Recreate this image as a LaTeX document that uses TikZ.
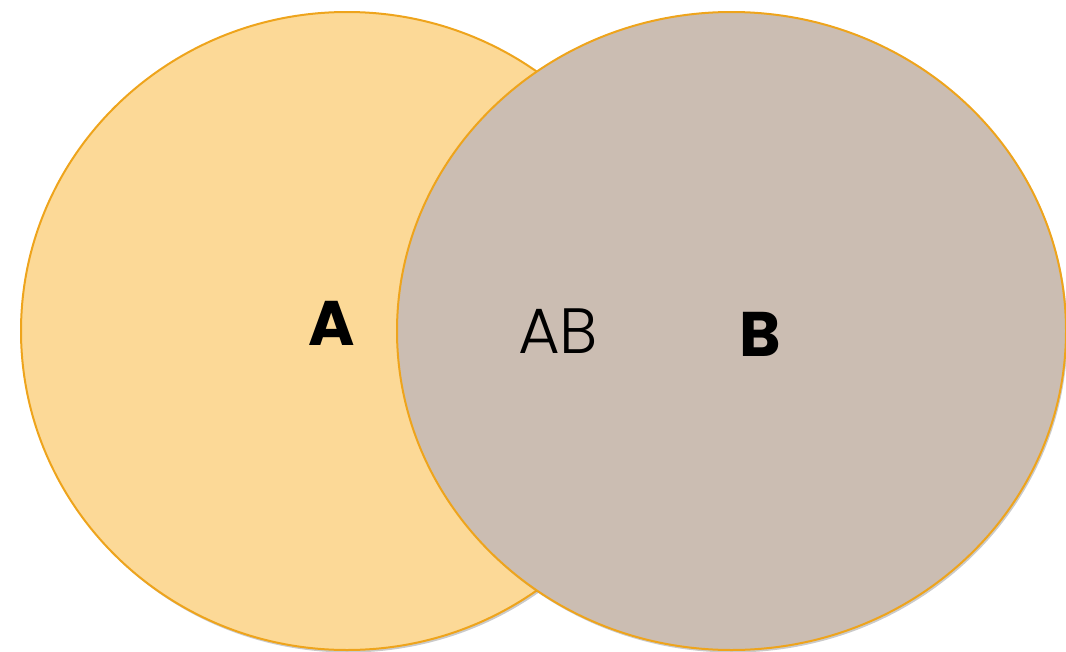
\documentclass[tikz,border=0pt]{standalone}
\usepackage{fontspec}
\newfontfamily\geofont{Poppins}
\newfontfamily\geolight{Poppins Light}
\usetikzlibrary{shapes.geometric,shadows}
\definecolor{setAfill}{RGB}{252,217,151}
\definecolor{setBfill}{RGB}{203,189,178}
\definecolor{edge}{RGB}{238,164,28}
\tikzset{
  setshape/.style={ellipse, draw=edge, line width=2pt, inner sep=0pt,
    drop shadow={shadow xshift=1.5pt, shadow yshift=-2.5pt, opacity=0.35, fill=black!60}},
  boldlabel/.style={font=\geofont\bfseries\fontsize{63}{63}\selectfont, text=black, inner sep=0pt},
  lightlabel/.style={font=\geolight\fontsize{64}{64}\selectfont, text=black, inner sep=0pt}
}
\begin{document}
\begin{tikzpicture}[x=1pt,y=-1pt]
\useasboundingbox (0,0) rectangle (1066,651);
\node[setshape, fill=setAfill, minimum width=652pt, minimum height=638pt] (setA) at (347,331) {};
\node[setshape, fill=setBfill, minimum width=669pt, minimum height=638pt] (setB) at (731.5,331) {};
\node[boldlabel] (labA) at (332,323) {A};
\node[lightlabel] (labAB) at (558,331) {AB};
\node[boldlabel] (labB) at (760,334) {B};
\end{tikzpicture}
\end{document}
